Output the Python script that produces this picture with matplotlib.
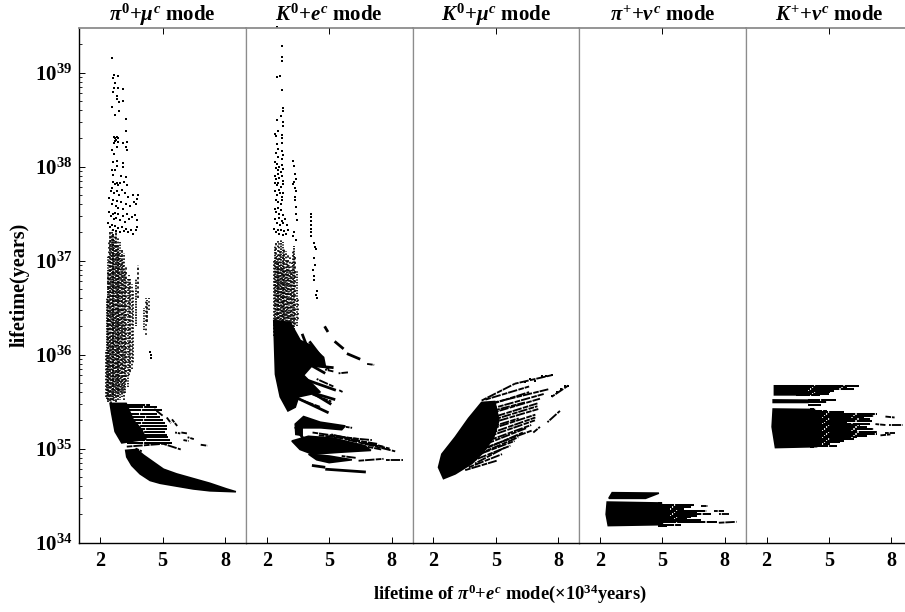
import numpy as np
import matplotlib
matplotlib.use("Agg")
import matplotlib.pyplot as plt
from matplotlib.ticker import FixedLocator, NullFormatter

plt.rcParams['font.family'] = ['Liberation Serif', 'DejaVu Serif']
plt.rcParams['font.weight'] = 'bold'
plt.rcParams['mathtext.fontset'] = 'custom'
plt.rcParams['mathtext.rm'] = 'Liberation Serif:bold'
plt.rcParams['mathtext.bf'] = 'Liberation Serif:bold'
plt.rcParams['mathtext.it'] = 'Liberation Serif:italic:bold'

titles = [r'$\pi^{\mathbf{0}}\mathbf{+}\mu^{c}$ mode', r'$K^{\mathbf{0}}\mathbf{+}e^{c}$ mode',
          r'$K^{\mathbf{0}}\mathbf{+}\mu^{c}$ mode', r'$\pi^{\mathbf{+}}\mathbf{+}\nu^{c}$ mode',
          r'$K^{\mathbf{+}}\mathbf{+}\nu^{c}$ mode']
x_ticks = [2, 5, 8]
y_exponents = [34, 35, 36, 37, 38, 39]

# all values below are (lifetime of pi0+e mode in 1e34 yr, log10 lifetime of the other mode)

# pi0 + mu
pm_dots = [(2.56,39.15),(2.67,38.97),(2.85,38.96),(2.62,38.94),(2.72,38.89),(2.69,38.84),(2.88,38.84),
           (3.12,38.83),(2.64,38.79),(2.80,38.75),(2.83,38.72),(3.12,38.70),(2.89,38.69),(2.58,38.63),
           (2.89,38.59),(2.70,38.55),(3.25,38.51),(3.26,38.38),(2.66,38.31),(2.72,38.30),(2.80,38.31),
           (2.88,38.30),(2.70,38.27),(2.76,38.28),(2.84,38.26),(2.68,38.25),(3.09,38.25),(3.28,38.26),
           (3.25,38.21),(3.31,38.18),(2.83,38.21),(2.56,38.18),(2.67,38.13),(2.80,38.06),(2.61,38.05),
           (3.12,38.04),(3.12,38.00),(2.80,38.01),(2.72,37.96),(2.56,37.96),(2.99,37.90),(3.25,37.89),
           (2.64,37.91),(3.60,37.70),(3.80,37.70),(3.75,37.65),(3.65,37.62),(3.70,37.60),(3.76,37.43),
           (3.78,37.36),(3.72,37.33),(3.68,37.48),(4.40,36.03),(4.43,35.99),(4.46,35.96),
           (2.63,37.84),(2.72,37.81),(2.79,37.83),(2.86,37.80),(2.95,37.82),(3.14,37.84),(3.31,37.80),
           (2.50,37.74),(2.58,37.77),(2.68,37.72),(2.83,37.74),(2.92,37.70),(3.05,37.75),(3.20,37.72),(3.35,37.68),
           (2.42,37.66),(2.55,37.60),(2.62,37.64),(2.74,37.58),(2.80,37.63),(2.88,37.56),(3.00,37.62),(3.10,37.55),(3.24,37.60),(3.42,37.58),
           (2.45,37.52),(2.52,37.47),(2.60,37.50),(2.66,37.44),(2.72,37.51),(2.78,37.45),(2.85,37.49),(2.96,37.43),(3.08,37.47),(3.18,37.41),(3.30,37.50),(3.40,37.44),(3.52,37.46),
           (2.40,37.40),(2.47,37.36),(2.56,37.38),(2.64,37.33),(2.70,37.37),(2.76,37.31),(2.86,37.35),(2.94,37.30),(3.04,37.36),(3.14,37.31),(3.22,37.34),(3.34,37.30),(3.46,37.33),(3.58,37.28)]
pm_col_x = [2.28,2.32,2.36,2.40,2.44,2.48,2.52,2.56,2.60,2.64,2.68,2.72,2.76,2.80,2.84,2.88,2.92,2.96,3.00,3.05,
            3.10,3.15,3.20,3.26,3.32,3.38,3.45,3.52,3.60,3.70,3.80,4.10,4.18,4.26,4.34]
pm_col_lo = [35.55,35.52,35.50,35.50,35.52,35.50,35.48,35.50,35.55,35.52,35.50,35.55,35.50,35.60,35.52,35.55,35.58,35.52,35.60,35.55,
             35.60,35.52,35.58,35.70,35.65,35.75,35.80,35.85,35.90,36.30,36.60,36.25,36.20,36.35,36.45]
pm_col_hi = [36.05,36.60,36.90,37.05,37.20,37.30,37.25,37.32,37.28,37.30,37.22,37.28,37.30,37.18,37.25,37.15,37.10,37.20,37.05,37.12,
             37.00,37.08,36.90,36.95,36.80,36.85,36.80,36.75,36.70,36.80,36.95,36.50,36.60,36.58,36.60]
pm_solids = [[(3.23,34.98),(3.76,34.99),(4.08,34.93),(4.40,34.88),(5.04,34.78),(5.67,34.73),(6.47,34.68),(7.27,34.63),
              (8.07,34.57),(8.52,34.54),(7.27,34.55),(6.47,34.57),(5.67,34.60),(4.88,34.63),(4.40,34.66),(3.92,34.73),(3.52,34.82),(3.28,34.91)],
             [(2.48,35.48),(3.25,35.48),(3.60,35.30),(4.00,35.20),(4.20,35.10),(3.04,35.06),(2.72,35.18),(2.56,35.37)]]
pm_row_y = [35.46,35.44,35.41,35.37,35.34,35.30,35.27,35.24,35.21,35.18,35.14,35.12,35.09,35.06]
pm_row_end = [4.40,4.72,4.96,4.72,4.88,5.04,5.12,5.19,5.19,5.12,5.19,5.27,5.35,5.43]
pm_row_start = [3.30]*14
pm_streaks = [(3.28,35.02,5.03,35.05),(5.03,35.05,5.87,34.99),(4.60,35.42,5.00,35.35),(5.20,35.33,5.40,35.27),
              (5.45,35.31,5.70,35.24),(5.60,35.17,5.85,35.16),(5.90,35.17,6.20,35.16),(6.00,35.09,6.25,35.08),
              (6.20,35.12,6.50,35.10),(6.83,35.04,7.15,35.03),(3.70,35.00,4.00,34.97)]

# K0 + e
ke_dots = [(2.50,39.48),(2.73,39.28),(2.75,39.17),(2.75,39.12),(2.48,38.95),(2.64,38.96),(2.73,38.81),(2.78,38.62),
           (2.78,38.59),(2.50,38.50),(2.67,38.54),(2.77,38.47),(2.77,38.43),(2.53,38.38),(2.38,38.35),(2.45,38.32),
           (2.73,38.34),(3.25,38.06),(3.31,38.01),(3.37,37.92),(3.40,37.87),(3.33,37.84),(3.25,37.81),(3.37,37.77),
           (3.42,37.74),(3.37,37.68),(3.34,37.64),(3.40,37.57),(3.40,37.50),(3.47,37.43),(4.26,37.03),(4.30,36.95),
           (4.22,36.90),(4.28,36.84),(4.26,36.79),(4.41,36.68),(4.38,36.63),(4.43,36.60),(4.28,37.19),(4.35,37.12),
           (2.75,38.30),(2.75,38.25),(2.48,38.24),(2.52,38.19),(2.46,38.14),(2.55,38.10),(2.75,38.17),(2.78,38.12),(2.74,38.08),
           (2.42,38.05),(2.50,38.03),(2.58,38.00),(2.46,37.98),(2.54,37.96),(2.72,38.02),(2.78,37.97),(2.68,37.94),
           (2.38,37.90),(2.44,37.87),(2.52,37.92),(2.60,37.88),(2.74,37.90),(2.80,37.85),(2.40,37.82),(2.48,37.80),(2.56,37.83),(2.70,37.78),(2.76,37.81),
           (2.42,37.74),(2.50,37.70),(2.58,37.75),(2.66,37.72),(2.72,37.68),(2.78,37.72),(2.46,37.64),(2.54,37.62),(2.70,37.60),(2.75,37.64),
           (2.38,37.55),(2.46,37.52),(2.52,37.56),(2.60,37.50),(2.70,37.54),(2.76,37.48),(2.42,37.44),(2.50,37.40),(2.58,37.45),(2.64,37.38),(2.72,37.42),
           (2.80,37.40),(2.88,37.44),(2.95,37.38),(2.36,37.34),(2.44,37.30),(2.52,37.33),(2.60,37.28),(2.68,37.32),(2.76,37.27),(2.84,37.31),(2.92,37.28),(3.00,37.33),
           (3.32,37.30),(3.28,37.26),(3.40,37.22),(4.12,37.50),(4.13,37.46),(4.12,37.42),(4.14,37.38),(4.12,37.34),(4.15,37.30),(4.13,37.26),(4.30,37.14)]
ke_col_x = [2.36,2.40,2.44,2.48,2.52,2.56,2.60,2.64,2.68,2.72,2.76,2.80,2.84,2.88,2.92,2.96,3.00,3.05,3.10,3.15,3.20,3.26,3.32,3.38,3.45,3.52]
ke_col_lo = [36.20,36.15,36.15,36.10,36.15,36.10,36.15,36.10,36.15,36.10,36.15,36.10,36.15,36.15,36.10,36.15,36.15,36.10,36.15,36.15,36.10,36.15,36.20,36.30,36.30,36.35]
ke_col_hi = [37.00,37.15,37.20,37.05,37.22,37.00,37.20,37.10,37.22,36.95,37.20,37.05,37.12,36.90,37.10,37.00,37.08,36.95,37.05,36.90,37.00,37.10,37.15,37.05,36.90,36.60]
ke_solids = [[(2.34,36.36),(3.13,36.34),(3.61,36.15),(4.09,36.10),(4.73,35.97),(4.81,35.88),(4.17,35.88),(3.77,35.78),(4.17,35.69),
              (4.57,35.60),(3.53,35.55),(3.37,35.44),(3.02,35.40),(2.65,35.55),(2.42,35.79)],
             [(3.77,35.34),(4.57,35.28),(5.77,35.24),(5.60,35.20),(4.60,35.22),(3.70,35.22),(3.70,35.14),(3.40,35.15),(3.37,35.26)],
             [(3.21,35.08),(4.00,35.13),(5.20,35.11),(6.70,35.03),(7.00,34.98),(5.50,34.96),(4.20,34.94),(3.60,34.99)],
             [(4.01,34.94),(5.00,34.92),(6.09,34.88),(5.00,34.85),(4.40,34.88)]]
ke_heavy = [(2.73,35.69,5.29,35.52),(3.05,35.58,4.97,35.38),(3.53,35.76,5.32,35.62),(3.37,35.90,5.21,35.86),
            (3.69,35.94,4.81,35.80),(3.40,35.70,5.10,35.47),(4.17,34.82,4.81,34.80),(4.81,34.78,6.76,34.75),
            (3.37,35.23,3.77,35.10),(4.78,36.30,4.94,36.24),(5.26,36.14,5.69,36.06),(5.85,36.01,6.49,35.95),(3.70,36.22,4.05,36.02),(4.05,36.14,4.60,35.98)]
ke_streaks = [(6.82,35.90,7.16,35.89),(5.48,35.62,5.66,35.60),(5.45,35.80,5.90,35.81),(6.41,34.87,7.61,34.89),
              (7.73,34.88,8.52,34.88),(5.77,35.10,8.17,34.97),(4.50,35.14,7.05,35.09),(5.80,35.23,6.10,35.22),
              (5.10,35.15,7.60,35.02),(6.60,35.06,7.90,35.00),(5.60,34.92,6.30,34.90),(4.80,35.84,5.20,35.82),
              (3.90,35.60,5.10,35.50),(3.60,35.52,4.60,35.44),(4.40,35.74,5.20,35.66),(4.60,35.90,5.00,35.84),
              (5.00,35.13,7.30,35.05),(5.40,35.08,7.50,34.99),(4.20,35.17,6.40,35.10)]

# K0 + mu
km_dots = [(7.20,35.77),(7.40,35.77),(7.68,35.78),(6.40,35.71),(6.65,35.74),(6.90,35.72),(8.48,35.67),(8.30,35.66),(8.15,35.63),(7.95,35.60),(7.68,35.56)]
km_solids = [[(2.25,34.80),(2.49,34.68),(3.05,34.73),(3.85,34.84),(4.40,34.96),(4.90,35.12),(5.15,35.30),(4.95,35.50),(4.32,35.49),(3.69,35.32),(3.05,35.12),(2.41,34.94)]]
km_streaks = [(4.32,35.51,5.92,35.69),(5.92,35.69,7.68,35.78),(4.56,35.47,7.52,35.63),(4.08,35.33,7.12,35.53),
              (4.16,35.23,7.04,35.42),(4.16,35.09,6.88,35.30),(4.16,34.98,6.72,35.19),(3.85,34.91,6.08,35.12),
              (4.00,34.84,5.44,35.01),(3.53,34.77,5.04,34.87),(7.68,35.55,8.48,35.67),(7.48,35.28,8.08,35.40),
              (6.80,35.17,7.12,35.23),(4.20,35.43,6.60,35.60),(4.10,35.28,7.00,35.48),(4.10,35.16,6.90,35.36),
              (4.10,35.04,6.70,35.25),(4.00,34.95,6.30,35.17),(4.50,35.52,6.60,35.66),(4.40,35.40,7.30,35.58),
              (4.30,35.37,6.40,35.49),(4.20,35.26,7.00,35.45),(4.20,35.19,6.10,35.32),(4.20,35.12,6.90,35.33),
              (4.20,35.02,6.50,35.22),(4.10,34.93,5.90,35.08),(4.00,34.88,5.70,35.03),(3.70,34.80,5.30,34.94)]

# pi+ + nu
pn_solids = [[(2.43,34.47),(2.59,34.53),(4.83,34.525),(4.19,34.47)],
             [(2.35,34.43),(4.95,34.42),(5.00,34.19),(2.40,34.18),(2.30,34.30)]]
pn_row_y = [34.42,34.394,34.376,34.358,34.34,34.323,34.305,34.287,34.27,34.25,34.24,34.227,34.213,34.19,34.18]
pn_row_end = [4.99,6.51,6.35,6.03,7.15,6.67,7.31,6.67,6.35,6.19,6.83,6.75,7.63,5.87,5.23]
pn_row_start = [4.80]*15
pn_streaks = [(6.83,34.385,7.18,34.385),(7.47,34.33,7.95,34.33),(7.71,34.30,8.19,34.30),(7.71,34.21,8.56,34.22)]

# K+ + nu
kn_solids = [[(2.38,35.667),(3.47,35.667),(3.60,35.571),(2.38,35.571)],
             [(2.32,35.517),(4.20,35.514),(4.00,35.490),(2.32,35.490)],
             [(2.32,35.42),(4.30,35.415),(4.40,35.02),(2.43,35.01),(2.27,35.23)]]
kn_row_y = [35.667,35.650,35.632,35.617,35.600,35.585,35.571,35.514,35.500,35.46,35.42,35.404,35.387,35.369,35.351,35.333,35.316,35.298,35.28,35.262,
            35.245,35.227,35.209,35.191,35.174,35.156,35.138,35.121,35.103,35.085,35.067,35.05,35.032,35.014]
kn_row_end = [6.43,5.87,6.19,5.23,5.07,5.00,4.59,5.34,4.90,4.60,4.27,4.91,5.71,7.31,7.15,6.67,6.99,7.07,5.87,6.99,
              6.51,6.83,7.15,6.35,7.31,7.31,6.83,6.35,6.19,5.71,5.55,5.07,5.39,4.27]
kn_row_start = [3.40]*7 + [4.00]*3 + [4.10]*24
kn_streaks = [(7.71,35.34,8.15,35.33),(7.23,35.26,7.71,35.25),(7.87,35.25,8.56,35.25),(7.47,35.14,7.95,35.15),(7.71,35.16,8.19,35.16)]

panels = [(pm_dots, (pm_col_x, pm_col_lo, pm_col_hi), pm_solids, [], pm_streaks, (pm_row_y, pm_row_start, pm_row_end)),
          (ke_dots, (ke_col_x, ke_col_lo, ke_col_hi), ke_solids, ke_heavy, ke_streaks, None),
          (km_dots, None, km_solids, [], km_streaks, None),
          ([], None, pn_solids, [], pn_streaks, (pn_row_y, pn_row_start, pn_row_end)),
          ([], None, kn_solids, [], kn_streaks, (kn_row_y, kn_row_start, kn_row_end))]
dash_cycle = [(1, 1.0), (1, 0.6), (1.4, 1.4), (0.8, 0.8), (1, 1.7), (1.7, 0.8), (0.9, 1.3)]

fig = plt.figure(figsize=(9.05, 6.12), dpi=100)
W, H = 905.0, 612.0
gray = '#8c8c8c'
for i, (dots, cols, solids, heavy, streaks, rows) in enumerate(panels):
    left = 79.3 + i*166.6
    ax = fig.add_axes([left/W, (H-542.5)/H, 166.6/W, 514.5/H])
    ax.set_xlim(1, 9)
    ax.set_yscale('log')
    ax.set_ylim(1e34, 10**39.474)
    if cols is not None:
        for k, (x, lo, hi) in enumerate(zip(*cols)):
            ax.plot([x, x], [10**lo, 10**hi], color='k', lw=1.2, ls=(k % 3, dash_cycle[k % 7]), dash_capstyle='butt')
    for s in solids:
        xy = np.array(s)
        ax.fill(xy[:, 0], 10**xy[:, 1], color='k', lw=1.2)
    if rows is not None:
        for k, (y, x0, x1) in enumerate(zip(*rows)):
            ax.plot([x0, x1], [10**y, 10**y], color='k', lw=1.45, ls=(k % 4, (9, 0.5, 14, 0.7)), dash_capstyle='butt')
    for x0, y0, x1, y1 in heavy:
        ax.plot([x0, x1], [10**y0, 10**y1], color='k', lw=2.0, solid_capstyle='butt')
    for k, (x0, y0, x1, y1) in enumerate(streaks):
        ax.plot([x0, x1], [10**y0, 10**y1], color='k', lw=1.35, ls=(k % 3, (3, 0.5, 5, 0.7)), dash_capstyle='butt')
    if dots:
        xy = np.array(dots)
        ax.plot(xy[:, 0], 10**xy[:, 1], ls='none', marker='s', ms=1.5, mew=0, color='k', clip_on=False)
    ax.set_xticks(x_ticks)
    ax.tick_params(axis='x', which='major', direction='in', length=4.5, width=0.7, labelsize=14.5, pad=6)
    ax.set_title(titles[i], fontsize=15, fontweight='bold', pad=5)
    ax.spines['top'].set_color(gray)
    ax.spines['top'].set_linewidth(1.3)
    ax.spines['right'].set_color(gray)
    ax.spines['right'].set_linewidth(0.9)
    ax.spines['bottom'].set_linewidth(1.0)
    ax.spines['left'].set_linewidth(1.0 if i == 0 else 0.9)
    ax.spines['left'].set_color('k' if i == 0 else gray)
    top = ax.twiny()
    top.set_xlim(1, 9)
    top.set_xticks([5])
    top.set_xticklabels([])
    top.tick_params(axis='x', direction='in', length=4, width=0.7)
    top.patch.set_visible(False)
    for sp in top.spines.values():
        sp.set_visible(False)
    if i == 0:
        ax.set_yticks([10.0**e for e in y_exponents])
        ax.set_yticklabels(['$\\mathbf{10^{%d}}$' % e for e in y_exponents])
        minors = [m*10.0**e for e in y_exponents for m in range(2, 10)]
        ax.yaxis.set_minor_locator(FixedLocator(minors))
        ax.yaxis.set_minor_formatter(NullFormatter())
        ax.tick_params(axis='y', which='major', direction='in', length=4.5, width=0.7, labelsize=15, pad=5)
        ax.tick_params(axis='y', which='minor', direction='in', length=2.3, width=0.6)
    else:
        ax.set_yticks([])
        ax.minorticks_off()

fig.text(20/W, 1-285/H, 'lifetime(years)', rotation=90, ha='center', va='center', fontsize=14.5, fontweight='bold')
fig.text(510/W, 1-594/H, r'lifetime of $\pi^{\mathbf{0}}\mathbf{+}e^{c}$ mode($\mathbf{\times 10^{34}}$years)',
         ha='center', va='center', fontsize=13.3, fontweight='bold')
fig.savefig('out.png', dpi=100)
